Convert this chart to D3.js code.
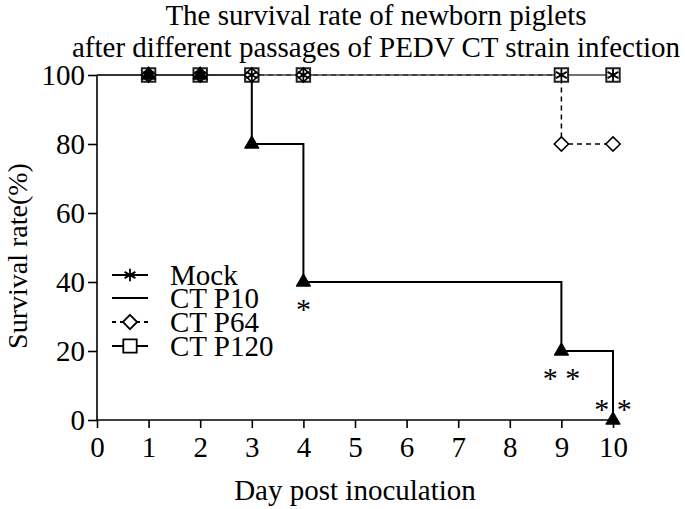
<!DOCTYPE html>
<html><head><meta charset="utf-8">
<script src="https://cdn.jsdelivr.net/npm/d3@7"></script>
<style>body{margin:0;background:#fff}svg{display:block}text{font-family:"Liberation Serif","Times New Roman",serif;fill:#000}</style>
</head><body><svg id="c" width="685" height="509"></svg>
<script>
const titleLines = ["The survival rate of newborn piglets", "after different passages of PEDV CT strain infection"];
const xTicks = [0,1,2,3,4,5,6,7,8,9,10];
const yTicks = [0,20,40,60,80,100];
const xLabel = "Day post inoculation";
const yLabel = "Survival rate(%)";
// step curves
const mockDays = [0,1,2,3,4,9,10], mockVals = [100,100,100,100,100,100,100];
const p10Days = [0,1,2,3,4,9,10], p10Vals = [100,100,100,80,40,20,0];
const p64Days = [0,1,2,3,4,9,10], p64Vals = [100,100,100,100,100,80,80];
const p120Days = [0,1,2,3,4,9,10], p120Vals = [100,100,100,100,100,100,100];
// markers
const mockMarkDays = [1,2,3,4,9,10], mockMarkVals = [100,100,100,100,100,100];
const p10MarkDays = [1,2,3,4,9,10], p10MarkVals = [100,100,80,40,20,0];
const p64MarkDays = [1,2,3,4,9,10], p64MarkVals = [100,100,100,100,80,80];
const p120MarkDays = [1,2,3,4,9,10], p120MarkVals = [100,100,100,100,100,100];
const legendNames = ["Mock","CT P10","CT P64","CT P120"];
const sigDays = [4,9,10], sigVals = [40,20,0], sigLabels = ["*","* *","* *"];

const FONT = "'Liberation Serif','Times New Roman',serif";
const svg = d3.select("#c");
const x = d3.scaleLinear().domain([0,10]).range([97,613]);
const y = d3.scaleLinear().domain([0,100]).range([420,75]);

// title
svg.append("text").attr("x",376).attr("y",25).attr("text-anchor","middle").style("font-size","29px").text(titleLines[0]);
svg.append("text").attr("x",376).attr("y",57).attr("text-anchor","middle").style("font-size","29px").text(titleLines[1]);

// axes
const yAxis = svg.append("g").attr("transform","translate(97,0)")
  .call(d3.axisLeft(y).tickValues(yTicks).tickSize(9).tickPadding(3));
const xAxis = svg.append("g").attr("transform","translate(0,420)")
  .call(d3.axisBottom(x).tickValues(xTicks).tickSize(8).tickPadding(6));
[yAxis,xAxis].forEach(a=>{
  a.attr("font-family",null).attr("font-size",null);
  a.select(".domain").attr("stroke","#000").attr("stroke-width",1.6);
  a.selectAll(".tick line").attr("stroke","#000").attr("stroke-width",1.6);
  a.selectAll(".tick text").style("font-family",FONT).style("font-size","29px").attr("fill","#000");
});
yAxis.select(".domain").attr("d","M0,420V75");
xAxis.select(".domain").attr("d","M97,0H613");
yAxis.selectAll(".tick text").attr("dy","0.34em");
xAxis.selectAll(".tick text").attr("dy","0.8em");

svg.append("text").attr("x",355).attr("y",500).attr("text-anchor","middle").style("font-size","29px").text(xLabel);
svg.append("text").attr("transform","translate(27,256) rotate(-90)").attr("text-anchor","middle").style("font-size","28px").text(yLabel);

const line = d3.line().curve(d3.curveStepAfter).x(d=>x(d[0])).y(d=>y(d[1]));
const zip = (a,b)=>a.map((v,i)=>[v,b[i]]);

svg.append("path").datum(zip(p64Days,p64Vals)).attr("d",line).attr("fill","none").attr("stroke","#000").attr("stroke-width",1.5).attr("stroke-dasharray","5,4");
svg.append("path").datum(zip(p10Days,p10Vals)).attr("d",line).attr("fill","none").attr("stroke","#000").attr("stroke-width",2);
svg.append("path").datum(zip(mockDays,mockVals)).attr("d",line).attr("fill","none").attr("stroke","#444").attr("stroke-width",1.2);
svg.append("path").datum(zip(p120Days,p120Vals)).attr("d",line).attr("fill","none").attr("stroke","#444").attr("stroke-width",1.2);

const sqSym = d3.symbol().type(d3.symbolSquare).size(180);
const diaSym = d3.symbol().type(d3.symbolDiamond2).size(130);
const triSym = d3.symbol().type(d3.symbolTriangle).size(90);
const astSym = d3.symbol().type(d3.symbolAsterisk).size(110);

function marks(days, vals, sym, fill, stroke, sw){
  svg.append("g").selectAll("path").data(zip(days,vals)).join("path")
    .attr("transform",d=>`translate(${x(d[0])},${y(d[1])})`)
    .attr("d",sym).attr("fill",fill).attr("stroke",stroke).attr("stroke-width",sw);
}
marks(p120MarkDays,p120MarkVals,sqSym,"#fff","#222",2);
marks(p64MarkDays,p64MarkVals,diaSym,"#fff","#000",1.6);
marks(mockMarkDays,mockMarkVals,astSym,"none","#000",1.8);
marks(p10MarkDays,p10MarkVals,triSym,"#000","#000",1);

// significance
sigDays.forEach((d,i)=>{
  const yy = i===2 ? y(sigVals[i]) - 1 : y(sigVals[i]) + 37;
  svg.append("text").attr("x",x(d)).attr("y",yy).attr("text-anchor","middle")
    .style("font-size","30px").text(sigLabels[i]);
});

// legend
const lg = svg.append("g");
const rows = [275,298,322,346];
const legSyms = [astSym,null,diaSym,sqSym];
legendNames.forEach((n,i)=>{
  const ly = rows[i];
  lg.append("line").attr("x1",112).attr("x2",148).attr("y1",ly).attr("y2",ly)
    .attr("stroke","#000").attr("stroke-width",1.8).attr("stroke-dasharray", i===2?"4,4":null);
  if(legSyms[i]){
    lg.append("path").attr("transform",`translate(130,${ly})`).attr("d",legSyms[i])
      .attr("fill", i===0?"none":"#fff").attr("stroke","#000").attr("stroke-width",1.8);
  }
  lg.append("text").attr("x",170).attr("y",ly+10).style("font-size","29px").text(n);
});
</script></body></html>
